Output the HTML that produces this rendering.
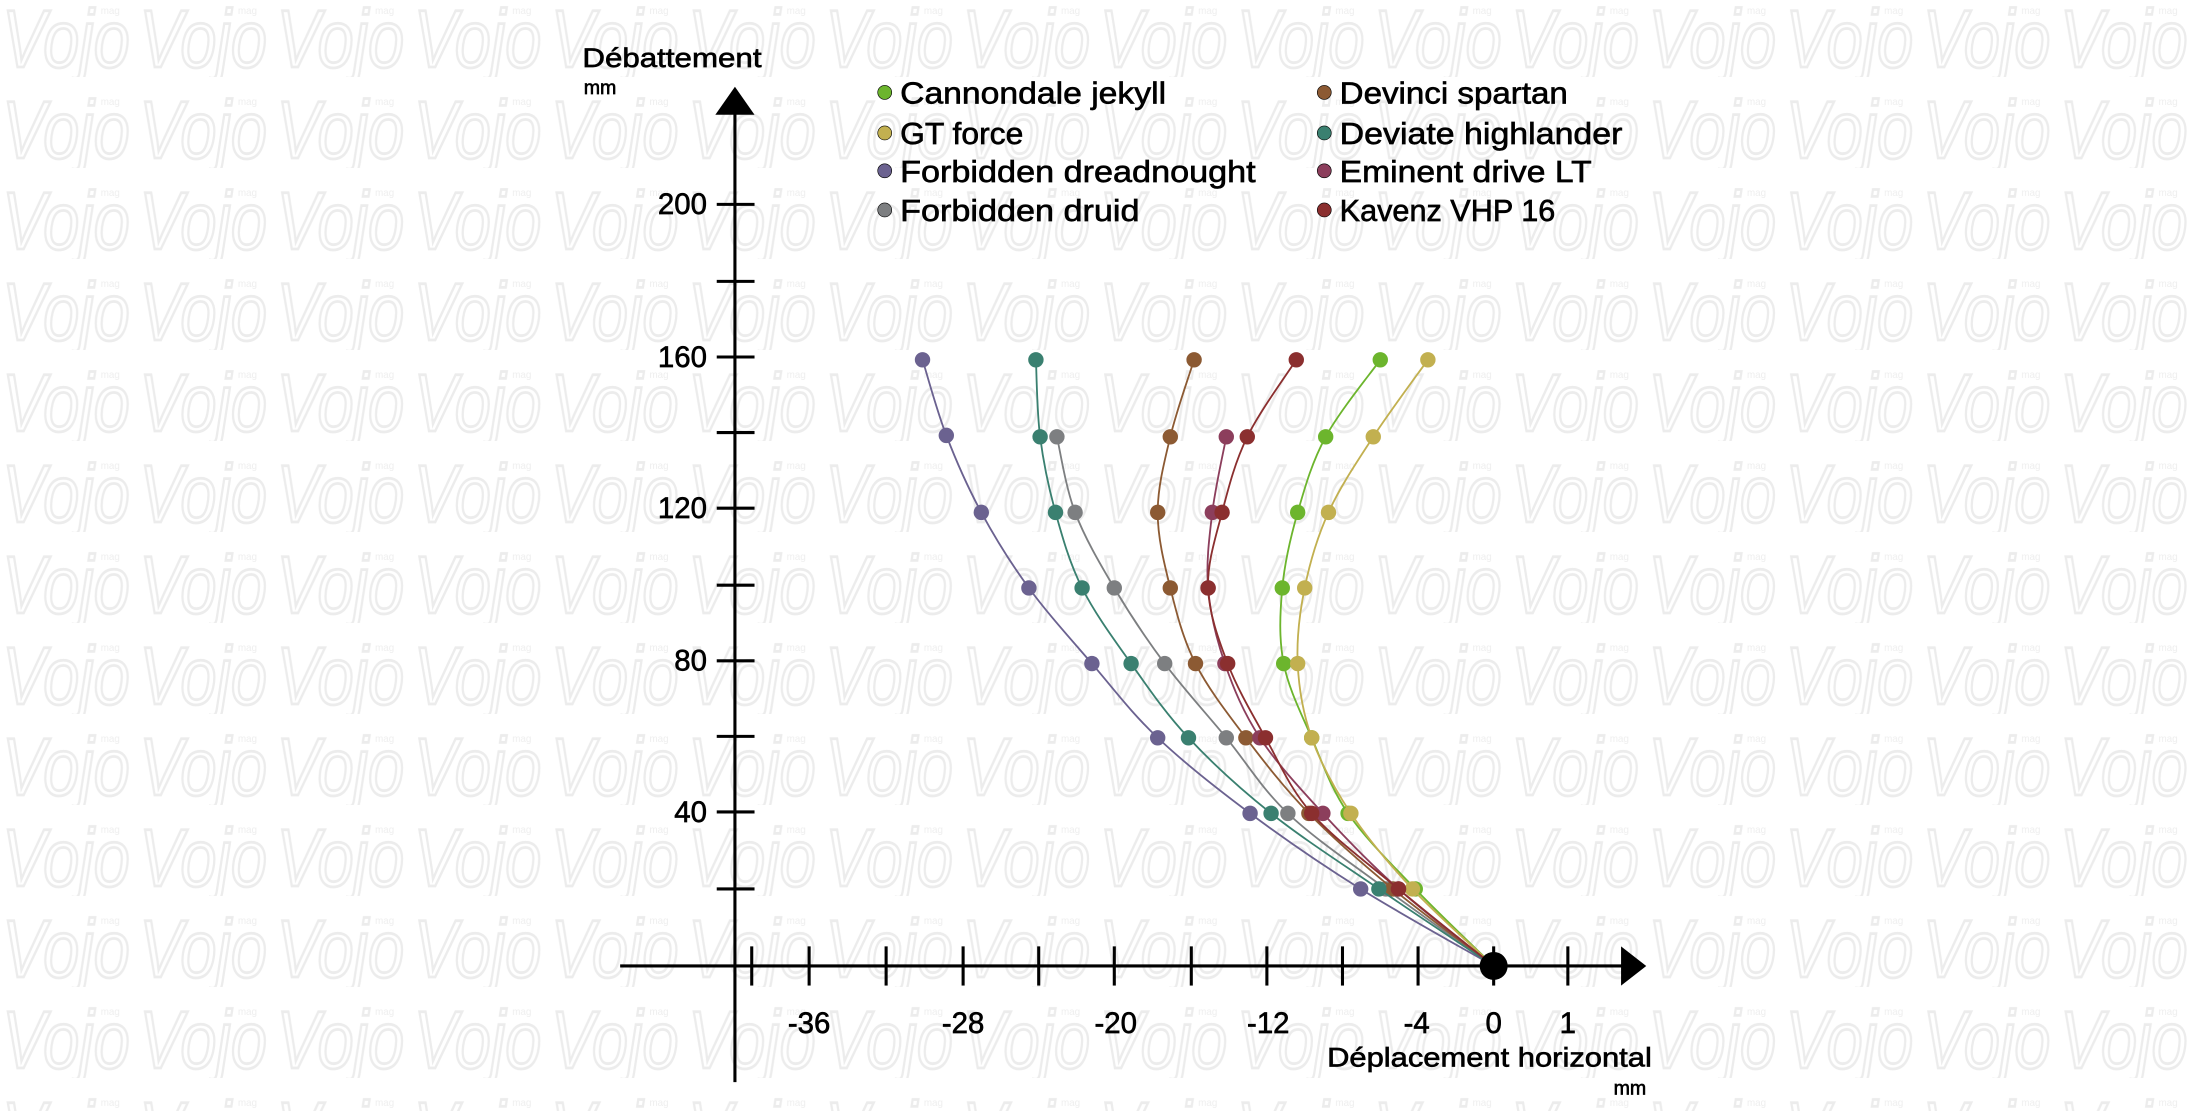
<!DOCTYPE html>
<html><head><meta charset="utf-8">
<style>html,body{margin:0;padding:0;background:#fff;overflow:hidden}svg{display:block}
text{font-family:"Liberation Sans",sans-serif;fill:#000}
.b{stroke:#000;stroke-width:0.45}</style></head>
<body>
<svg id="s" width="2195" height="1111" viewBox="0 0 1568 793.6" preserveAspectRatio="none" xmlns="http://www.w3.org/2000/svg">
<defs>
<pattern id="wm" x="0" y="-10" width="98" height="65" patternUnits="userSpaceOnUse">
<text x="2" y="58" font-size="58" font-style="italic" font-family="Liberation Serif,serif" style="fill:none;stroke:#ececec;stroke-width:2" transform="scale(0.8,1)">Vojo</text>
<text x="72" y="20" font-size="7" style="fill:#eeeeee">mag</text>
</pattern>
</defs>
<rect width="1568" height="794" fill="#fff"/>
<rect width="1568" height="794" fill="url(#wm)"/>
<g stroke="#000" stroke-width="2.2" fill="none" id="axes">
<line x1="525" y1="80" x2="525" y2="773"/>
<line x1="443" y1="690" x2="1162" y2="690"/>
</g>
<polygon points="525,62 511,82 539,82" fill="#000"/>
<polygon points="1176,690 1158,676 1158,704" fill="#000"/>
<g id="ticks" stroke="#000" stroke-width="2.2"></g>
<g font-size="21" text-anchor="end" class="b">
<text x="505" y="153">200</text><text x="505" y="262">160</text><text x="505" y="370">120</text>
<text x="505" y="479">80</text><text x="505" y="587">40</text>
</g>
<g font-size="21" text-anchor="middle" class="b">
<text x="578" y="738">-36</text><text x="688" y="738">-28</text><text x="797" y="738">-20</text>
<text x="906" y="738">-12</text><text x="1012" y="738">-4</text><text x="1067" y="738">0</text><text x="1120" y="738">1</text>
</g>
<text x="416" y="48" font-size="19" class="b" textLength="128" lengthAdjust="spacingAndGlyphs">Débattement</text>
<text x="417" y="67" font-size="14" class="b">mm</text>
<text x="948" y="762" font-size="19" class="b" textLength="232" lengthAdjust="spacingAndGlyphs">Déplacement horizontal</text>
<text x="1176" y="782" font-size="14" class="b" text-anchor="end">mm</text>
<g id="legend" font-size="22" class="b"></g>
<g id="series"></g>
<circle cx="1067" cy="690" r="10" fill="#000"/>
</svg>
<script>
var NS="http://www.w3.org/2000/svg";
function el(t,a,p){var e=document.createElementNS(NS,t);for(var k in a)e.setAttribute(k,a[k]);if(p)p.appendChild(e);return e;}
var tk=document.getElementById('ticks');
[146,201,255,309,363,418,472,526,580,635].forEach(function(y){el('line',{x1:512,y1:y,x2:539,y2:y},tk)});
[537,578,633,688,742,796,851,905,959,1013,1067,1120].forEach(function(x){el('line',{x1:x,y1:676,x2:x,y2:704},tk)});
var S=[
["Cannondale jekyll","#6cb52d",[[986,257],[947,312],[927,366],[916,420],[917,474],[937,527],[963,581],[1011,635]]],
["GT force","#c2b050",[[1020,257],[981,312],[949,366],[932,420],[927,474],[937,527],[965,581],[1009,635]]],
["Forbidden dreadnought","#6b6290",[[659,257],[676,311],[701,366],[735,420],[780,474],[827,527],[893,581],[972,635]]],
["Forbidden druid","#7d7f81",[[755,312],[768,366],[796,420],[832,474],[876,527],[920,581],[990,635]]],
["Devinci spartan","#8c5a33",[[853,257],[836,312],[827,366],[836,420],[854,474],[890,527],[935,581],[995,635]]],
["Deviate highlander","#3a8070",[[740,257],[743,312],[754,366],[773,420],[808,474],[849,527],[908,581],[985,635]]],
["Eminent drive LT","#8c3e5c",[[876,312],[866,366],[863,420],[875,474],[900,527],[945,581],[999,635]]],
["Kavenz VHP 16","#8b2f2f",[[926,257],[891,312],[873,366],[863,420],[877,474],[904,527],[937,581],[999,635]]]
];
var sg=document.getElementById('series'),lg=document.getElementById('legend');
var LW={"Cannondale jekyll":190,"GT force":88,"Forbidden dreadnought":254,"Forbidden druid":171,"Devinci spartan":163,"Deviate highlander":202,"Eminent drive LT":180,"Kavenz VHP 16":154};
S.forEach(function(s,i){
 var p=s[2].concat([[1067,690]]);
 var d="M"+p[0][0]+","+p[0][1];
 for(var j=0;j<p.length-1;j++){
  var p0=p[j-1]||p[j],p1=p[j],p2=p[j+1],p3=p[j+2]||p2;
  var c1=[p1[0]+(p2[0]-p0[0])/6,p1[1]+(p2[1]-p0[1])/6],c2=[p2[0]-(p3[0]-p1[0])/6,p2[1]-(p3[1]-p1[1])/6];
  d+=" C"+c1+" "+c2+" "+p2;
 }
 el('path',{d:d,fill:"none",stroke:s[1],"stroke-width":1.3},sg);
 s[2].forEach(function(q){el('circle',{cx:q[0],cy:q[1],r:5.5,fill:s[1]},sg)});
 var col=i<4?0:1,row=i%4,x=col?946:632,y=[66,95,122,150][row];
 el('circle',{cx:x,cy:y,r:5,fill:s[1]},lg);
 var t=el('text',{x:x+11,y:y+8,textLength:LW[s[0]],lengthAdjust:"spacingAndGlyphs"},lg);t.textContent=s[0];
});
</script>
</body></html>
